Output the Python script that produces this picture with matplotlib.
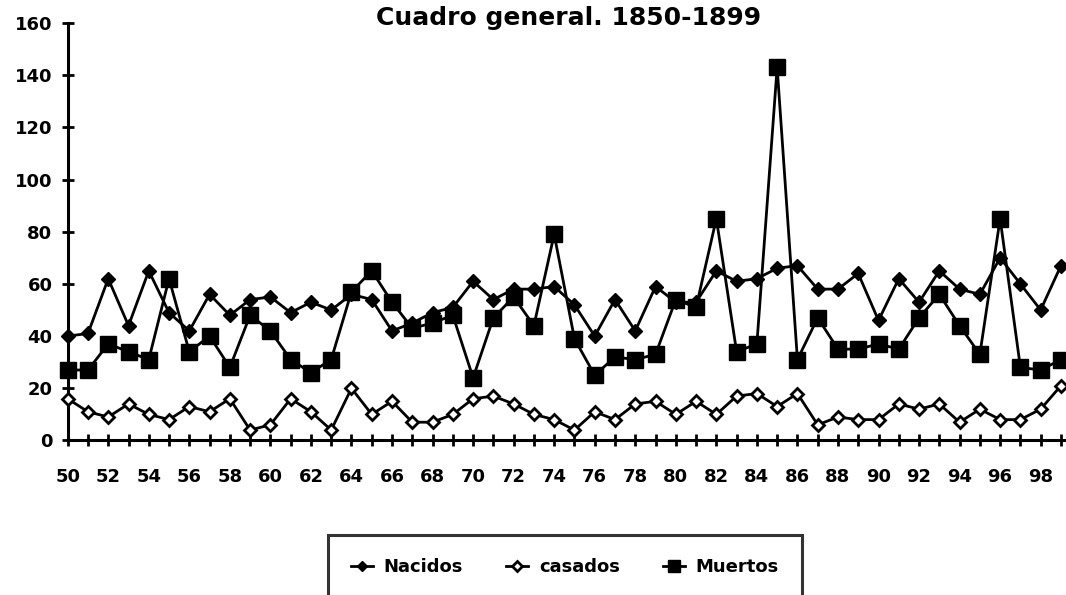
import matplotlib
matplotlib.use('Agg')
import matplotlib.pyplot as plt

# anos 1850-1899, mostrados con dos cifras
years = list(range(50, 100))

nacidos = [40, 41, 62, 44, 65, 49, 42, 56, 48, 54,
           55, 49, 53, 50, 56, 54, 42, 45, 49, 51,
           61, 54, 58, 58, 59, 52, 40, 54, 42, 59,
           53, 53, 65, 61, 62, 66, 67, 58, 58, 64,
           46, 62, 53, 65, 58, 56, 70, 60, 50, 67]

casados = [16, 11, 9, 14, 10, 8, 13, 11, 16, 4,
           6, 16, 11, 4, 20, 10, 15, 7, 7, 10,
           16, 17, 14, 10, 8, 4, 11, 8, 14, 15,
           10, 15, 10, 17, 18, 13, 18, 6, 9, 8,
           8, 14, 12, 14, 7, 12, 8, 8, 12, 21]

muertos = [27, 27, 37, 34, 31, 62, 34, 40, 28, 48,
           42, 31, 26, 31, 57, 65, 53, 43, 45, 48,
           24, 47, 55, 44, 79, 39, 25, 32, 31, 33,
           54, 51, 85, 34, 37, 143, 31, 47, 35, 35,
           37, 35, 47, 56, 44, 33, 85, 28, 27, 31]

x_labels = [str(y) if y % 2 == 0 else '' for y in years]
y_ticks = [0, 20, 40, 60, 80, 100, 120, 140, 160]

fig = plt.figure(figsize=(10.66, 5.95), dpi=100)
ax = fig.add_axes([0.0635, 0.2597, 0.9365, 0.7017])

ax.plot(years, nacidos, color='black', lw=2, marker='D', ms=7,
        mfc='black', mec='black', clip_on=False, zorder=3, label='Nacidos')
ax.plot(years, casados, color='black', lw=2, marker='D', ms=6.5,
        mfc='white', mec='black', mew=2, clip_on=False, zorder=3, label='casados')
ax.plot(years, muertos, color='black', lw=2, marker='s', ms=11,
        mfc='black', mec='black', clip_on=False, zorder=4, label='Muertos')

ax.set_xlim(50, 99.25)
ax.set_ylim(0, 160)
ax.set_xticks(years)
ax.set_xticklabels(x_labels)
ax.set_yticks(y_ticks)

for side in ['top', 'right']:
    ax.spines[side].set_visible(False)
for side in ['left', 'bottom']:
    ax.spines[side].set_linewidth(2.2)

ax.tick_params(axis='both', direction='inout', width=2, colors='black')
ax.tick_params(axis='y', length=8, pad=7)
ax.tick_params(axis='x', length=9, pad=15)
for lbl in ax.get_xticklabels() + ax.get_yticklabels():
    lbl.set_fontsize(13)
    lbl.set_fontweight('bold')

fig.text(0.533, 0.97, 'Cuadro general. 1850-1899', ha='center', va='center',
         fontsize=18, fontweight='bold')

leg = fig.legend(loc='upper center', bbox_to_anchor=(565 / 1066, 1 - 526 / 595),
                 ncol=3, frameon=True, fancybox=False, handlelength=1.2,
                 handletextpad=0.6, columnspacing=2.4, borderpad=1.3,
                 markerscale=0.8, prop={'size': 13, 'weight': 'bold'})
leg.get_frame().set_edgecolor('black')
leg.get_frame().set_linewidth(2.2)

fig.savefig('out.png', dpi=100)
